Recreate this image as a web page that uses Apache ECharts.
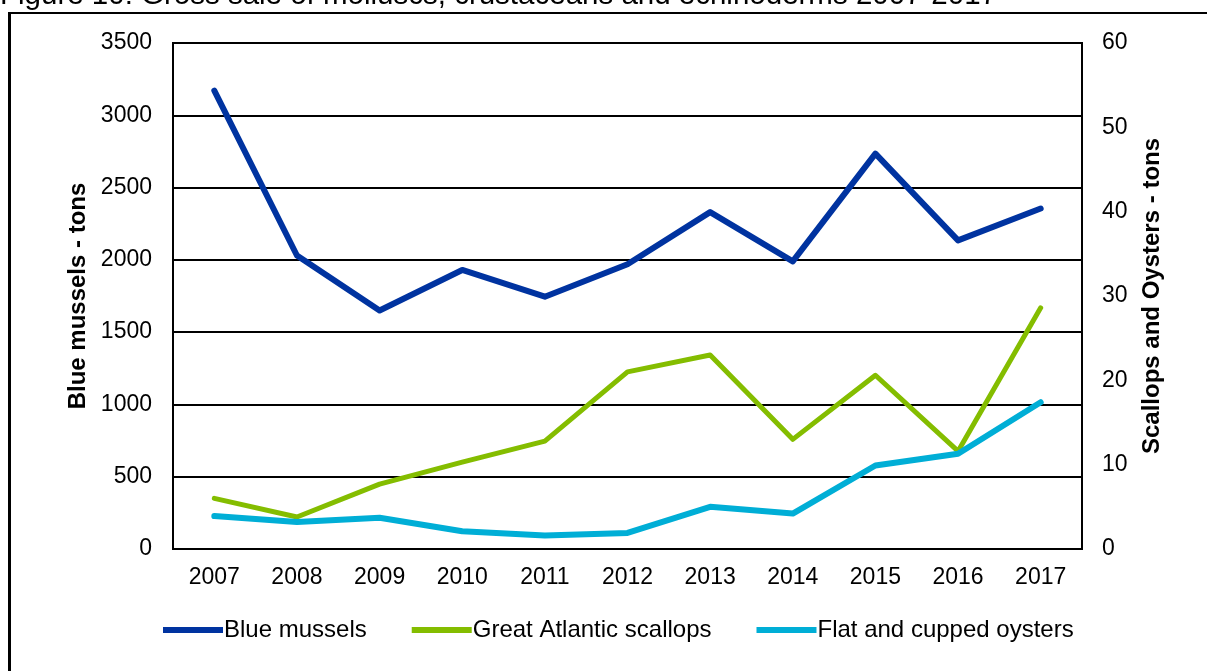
<!DOCTYPE html>
<html>
<head>
<meta charset="utf-8">
<script src="https://cdn.jsdelivr.net/npm/echarts@6/dist/echarts.min.js"></script>
<style>html,body{margin:0;padding:0;background:#fff;}#c{width:1207px;height:671px;}</style>
</head>
<body>
<div id="c"></div>
<script>
const years = ['2007','2008','2009','2010','2011','2012','2013','2014','2015','2016','2017'];
const blueMussels = [3170, 2030, 1650, 1930, 1745, 1970, 2330, 1990, 2735, 2135, 2355];
const scallops = [6.0, 3.8, 7.7, 10.3, 12.8, 21.0, 23.0, 13.0, 20.6, 11.6, 28.6];
const oysters = [3.9, 3.2, 3.7, 2.1, 1.6, 1.9, 5.0, 4.2, 9.9, 11.3, 17.4];
const leftTicks = [0, 3500, 500];
const rightTicks = [0, 60, 10];
const titleText = 'Figure 10: Gross sale of molluscs, crustaceans and echinoderms 2007-2017';

const FONT = '"Liberation Sans", Arial, sans-serif';
const icon = 'path://M0,0 L10,0 L10,1 L0,1 Z';
const chart = echarts.init(document.getElementById('c'), null, {renderer: 'canvas'});
chart.setOption({
  backgroundColor: '#fff',
  animation: false,
  textStyle: {fontFamily: FONT, color: '#000'},
  title: {
    text: titleText, left: -5, top: -24,
    textStyle: {fontFamily: FONT, fontSize: 29.5, fontWeight: 'normal', color: '#000'}
  },
  graphic: [
    {type: 'line', shape: {x1: 9.5, y1: 12, x2: 9.5, y2: 671}, style: {stroke: '#000', lineWidth: 3}},
    {type: 'line', shape: {x1: 8, y1: 13, x2: 1207, y2: 13}, style: {stroke: '#000', lineWidth: 2}}
  ],
  grid: {left: 173, right: 125, top: 43, bottom: 122, show: true, borderColor: '#000', borderWidth: 2, containLabel: false},
  legend: {
    bottom: 24, left: 158, itemGap: 45, itemWidth: 60, itemHeight: 6,
    textStyle: {fontFamily: FONT, fontSize: 24, color: '#000', padding: [0, 0, 0, -4]},
    data: [
      {name: 'Blue mussels', icon: icon},
      {name: 'Great Atlantic scallops', icon: icon},
      {name: 'Flat and cupped oysters', icon: icon}
    ]
  },
  xAxis: {
    type: 'category', data: years, boundaryGap: true,
    axisLine: {lineStyle: {color: '#000', width: 2}},
    axisTick: {show: false},
    axisLabel: {fontFamily: FONT, fontSize: 23, color: '#000', margin: 17}
  },
  yAxis: [
    {
      type: 'value', min: leftTicks[0], max: leftTicks[1], interval: leftTicks[2],
      name: 'Blue mussels - tons', nameLocation: 'middle', nameGap: 83, nameRotate: 90,
      nameTextStyle: {fontFamily: FONT, fontSize: 24, fontWeight: 'bold', color: '#000'},
      axisLine: {show: true, lineStyle: {color: '#000', width: 2}},
      axisTick: {show: false},
      axisLabel: {fontFamily: FONT, fontSize: 23, color: '#000', margin: 21, formatter: v => String(v)},
      splitLine: {show: true, lineStyle: {color: '#000', width: 2}}
    },
    {
      type: 'value', min: rightTicks[0], max: rightTicks[1], interval: rightTicks[2],
      name: 'Scallops and Oysters - tons', nameLocation: 'middle', nameGap: 58, nameRotate: 90,
      nameTextStyle: {fontFamily: FONT, fontSize: 24, fontWeight: 'bold', color: '#000'},
      axisLine: {show: true, lineStyle: {color: '#000', width: 2}},
      axisTick: {show: false},
      axisLabel: {fontFamily: FONT, fontSize: 23, color: '#000', margin: 20, formatter: v => String(v)},
      splitLine: {show: false}
    }
  ],
  series: [
    {name: 'Blue mussels', type: 'line', yAxisIndex: 0, data: blueMussels, symbol: 'none',
     color: '#0033A0', lineStyle: {width: 6, color: '#0033A0', cap: 'round', join: 'round'}},
    {name: 'Great Atlantic scallops', type: 'line', yAxisIndex: 1, data: scallops, symbol: 'none',
     color: '#84BD00', lineStyle: {width: 5, color: '#84BD00', cap: 'round', join: 'round'}},
    {name: 'Flat and cupped oysters', type: 'line', yAxisIndex: 1, data: oysters, symbol: 'none',
     color: '#00AED6', lineStyle: {width: 6, color: '#00AED6', cap: 'round', join: 'round'}}
  ]
});
</script>
</body>
</html>
